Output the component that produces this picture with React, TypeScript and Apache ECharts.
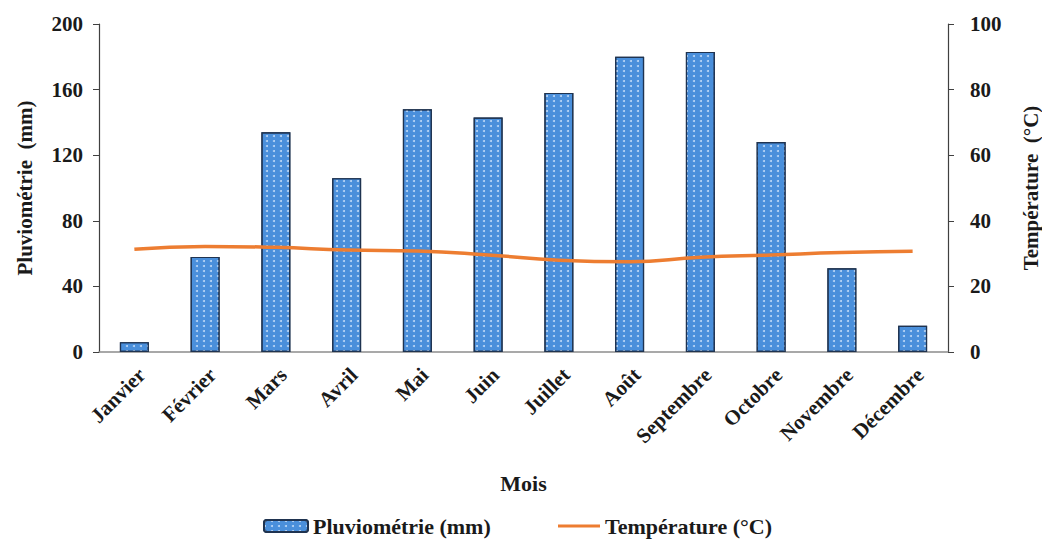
import React, { useEffect, useRef } from "react";
import * as echarts from "echarts";

const months = ["Janvier", "Février", "Mars", "Avril", "Mai", "Juin", "Juillet", "Août", "Septembre", "Octobre", "Novembre", "Décembre"];
const rainfall = [6, 58, 134, 106, 148, 143, 158, 180, 183, 128, 51, 16];
const temperature = [31.3, 32.2, 31.9, 31.1, 30.8, 29.6, 28.0, 27.5, 28.9, 29.6, 30.3, 30.7];
const leftTicks = [0, 40, 80, 120, 160, 200];
const rightTicks = [0, 20, 40, 60, 80, 100];

const FONT = "'Liberation Serif', 'Times New Roman', serif";

export default function App() {
  const ref = useRef<HTMLDivElement>(null);
  useEffect(() => {
    if (!ref.current) return;
    const chart = echarts.init(ref.current, undefined, { renderer: "svg" });
    const textBase = { fontFamily: FONT, fontWeight: "bold" as const, color: "#1a1a1a" };
    chart.setOption({
      animation: false,
      backgroundColor: "#ffffff",
      grid: { left: 99, right: 94, top: 24, bottom: 191, containLabel: false, outerBoundsMode: "none" },
      legend: [
        {
          data: ["Pluviométrie (mm)"],
          left: 258,
          top: 510,
          itemWidth: 44,
          itemHeight: 12,
          itemGap: 4,
          textStyle: { ...textBase, fontSize: 22 },
        },
        {
          data: [{ name: "Température (°C)", icon: "rect" }],
          left: 553,
          top: 510,
          itemWidth: 42,
          itemHeight: 3,
          itemGap: 4,
          textStyle: { ...textBase, fontSize: 22 },
        },
      ],
      xAxis: {
        type: "category",
        data: months,
        name: "Mois",
        nameLocation: "middle",
        nameGap: 120,
        nameTextStyle: { ...textBase, fontSize: 22 },
        axisLine: { lineStyle: { color: "#8c8c8c", width: 1.5 } },
        axisTick: { show: false },
        axisLabel: { ...textBase, fontSize: 21, rotate: 45, margin: 12, interval: 0, verticalAlign: "top" },
      },
      yAxis: [
        {
          type: "value",
          min: leftTicks[0],
          max: leftTicks[leftTicks.length - 1],
          interval: 40,
          name: "Pluviométrie  (mm)",
          nameLocation: "middle",
          nameRotate: 90,
          nameGap: 64,
          nameTextStyle: { ...textBase, fontSize: 21 },
          axisLine: { show: true, lineStyle: { color: "#404040", width: 1.2 } },
          axisTick: { show: true, length: 6, lineStyle: { color: "#404040" } },
          axisLabel: { ...textBase, fontSize: 21, margin: 16 },
          splitLine: { show: false },
        },
        {
          type: "value",
          min: rightTicks[0],
          max: rightTicks[rightTicks.length - 1],
          interval: 20,
          position: "right",
          name: "Température  (°C)",
          nameLocation: "middle",
          nameRotate: 90,
          nameGap: 72,
          nameTextStyle: { ...textBase, fontSize: 21 },
          axisLine: { show: true, lineStyle: { color: "#404040", width: 1.2 } },
          axisTick: { show: true, length: 6, lineStyle: { color: "#404040" } },
          axisLabel: { ...textBase, fontSize: 21, margin: 22 },
          splitLine: { show: false },
        },
      ],
      series: [
        {
          name: "Pluviométrie (mm)",
          type: "bar",
          data: rainfall,
          barWidth: 29,
          itemStyle: {
            color: "#4a8fdb",
            borderColor: "#1f3350",
            borderWidth: 1.2,
            decal: {
              symbol: "circle",
              symbolSize: 1,
              color: "rgba(215,232,252,0.8)",
              dashArrayX: [2, 5],
              dashArrayY: [2, 3],
              rotation: 0,
            },
          },
        },
        {
          name: "Température (°C)",
          type: "line",
          yAxisIndex: 1,
          data: temperature,
          smooth: true,
          showSymbol: false,
          symbol: "none",
          lineStyle: { color: "#ed7d31", width: 3.5 },
          itemStyle: { color: "#ed7d31" },
        },
      ],
    });
    return () => chart.dispose();
  }, []);
  return <div ref={ref} style={{ position: "fixed", left: 0, top: 0, right: 0, bottom: 0 }} />;
}
